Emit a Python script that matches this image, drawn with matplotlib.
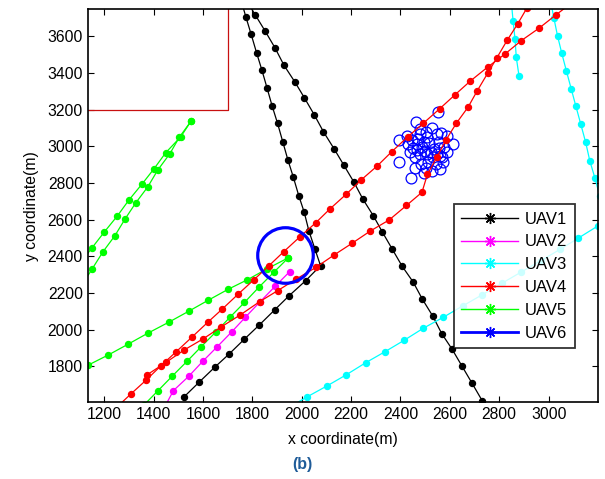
import matplotlib
matplotlib.use("Agg")
import matplotlib.pyplot as plt
from matplotlib.lines import Line2D

plt.rcParams['font.family'] = ['Liberation Sans', 'DejaVu Sans']

# UAV1 (black) - two tracks
uav1_a_x = [1524, 1585, 1647, 1706, 1767, 1828, 1890, 1949, 2016, 2076, 2053, 2029, 2010, 1988,
            1966, 1944, 1923, 1902, 1880, 1859, 1838, 1817, 1795, 1774, 1753]
uav1_a_y = [1634, 1714, 1794, 1867, 1947, 2025, 2107, 2185, 2267, 2349, 2441, 2538, 2640, 2730,
            2831, 2925, 3025, 3125, 3220, 3320, 3418, 3510, 3611, 3704, 3802]
uav1_b_x = [1770, 1812, 1851, 1892, 1928, 1973, 2010, 2051, 2088, 2132, 2170, 2211, 2248, 2290,
            2327, 2367, 2407, 2451, 2489, 2531, 2567, 2609, 2649, 2690, 2731, 2771]
uav1_b_y = [3809, 3716, 3630, 3536, 3442, 3349, 3266, 3171, 3079, 2984, 2898, 2805, 2711, 2621,
            2531, 2438, 2345, 2260, 2165, 2073, 1978, 1893, 1801, 1707, 1612, 1518]

# UAV2 (magenta)
uav2_x = [1421, 1480, 1542, 1599, 1658, 1716, 1772, 1830, 1892, 1951]
uav2_y = [1518, 1667, 1745, 1827, 1907, 1987, 2068, 2150, 2236, 2316]

# UAV3 (cyan) - three tracks
uav3_a_x = [1944, 2023, 2104, 2181, 2260, 2338, 2414, 2492, 2573, 2652, 2731, 2810, 2889, 2968,
            3047, 3119, 3199, 3280]
uav3_a_y = [1572, 1634, 1694, 1754, 1820, 1880, 1941, 2007, 2067, 2129, 2190, 2252, 2314, 2376,
            2438, 2498, 2565, 2630]
uav3_b_x = [3007, 3021, 3036, 3053, 3072, 3092, 3110, 3130, 3150, 3167, 3188, 3207]
uav3_b_y = [3798, 3702, 3603, 3509, 3411, 3311, 3221, 3122, 3022, 2920, 2825, 2729]
uav3_c_x = [2849, 2856, 2864, 2869, 2880]
uav3_c_y = [3787, 3685, 3584, 3485, 3385]

# UAV4 (red) - two tracks
uav4_a_x = [1247, 1308, 1370, 1429, 1492, 1556, 1621, 1678, 1743, 1807, 1866, 1927, 1991, 2057,
            2114, 2179, 2242, 2306, 2365, 2429, 2492, 2559, 2620, 2683, 2754, 2823, 2890, 2961,
            3029, 3098]
uav4_a_y = [1572, 1649, 1725, 1802, 1880, 1960, 2042, 2112, 2194, 2273, 2347, 2425, 2504, 2583,
            2658, 2737, 2818, 2893, 2971, 3051, 3125, 3205, 3280, 3356, 3433, 3503, 3577, 3644,
            3716, 3787]
uav4_b_x = [1372, 1451, 1524, 1600, 1673, 1751, 1829, 1902, 1978, 2057, 2131, 2204, 2278, 2354,
            2424, 2487, 2509, 2547, 2583, 2626, 2674, 2711, 2753, 2791, 2832, 2874, 2912, 2952]
uav4_b_y = [1752, 1822, 1889, 1949, 2014, 2080, 2152, 2212, 2276, 2339, 2407, 2471, 2538, 2598,
            2677, 2749, 2847, 2939, 3032, 3125, 3214, 3303, 3398, 3484, 3578, 3666, 3754, 3842]

# UAV5 (green) - four tracks
uav5_a_x = [1552, 1510, 1449, 1402, 1353, 1300, 1253, 1200, 1151, 1102]
uav5_a_y = [3138, 3052, 2965, 2878, 2794, 2707, 2620, 2532, 2447, 2361]
uav5_b_x = [1552, 1504, 1466, 1417, 1376, 1328, 1285, 1243, 1195, 1151, 1107]
uav5_b_y = [3138, 3049, 2960, 2871, 2778, 2692, 2605, 2512, 2425, 2331, 2238]
uav5_c_x = [1056, 1136, 1217, 1296, 1376, 1461, 1542, 1621, 1702, 1780, 1860, 1946]
uav5_c_y = [1747, 1807, 1862, 1920, 1980, 2040, 2100, 2160, 2220, 2272, 2332, 2392]
uav5_d_x = [1359, 1418, 1476, 1536, 1593, 1652, 1709, 1768, 1827, 1887, 1946]
uav5_d_y = [1586, 1667, 1747, 1828, 1907, 1987, 2067, 2148, 2232, 2313, 2392]

# UAV6 (blue) - marked position and scattered estimates
uav6_x = 1932
uav6_y = 2407
cloud_x = [2550, 2462, 2395, 2394, 2458, 2442, 2495, 2562, 2573, 2611, 2587, 2546, 2503, 2427,
           2431, 2452, 2472, 2489, 2516, 2535, 2557, 2576, 2560, 2533, 2508, 2479, 2460, 2512,
           2543, 2526, 2485, 2479, 2526, 2566, 2445, 2465, 2495, 2546, 2522, 2499, 2468, 2438,
           2570, 2587, 2503, 2557, 2506, 2479]
cloud_y = [3189, 3131, 3034, 2912, 2883, 2829, 2856, 2874, 2916, 3012, 3056, 3067, 3080, 3056,
           3012, 2989, 3038, 2998, 3020, 2983, 3025, 2994, 2947, 2940, 2958, 2958, 2943, 2916,
           2903, 2867, 2903, 3067, 3098, 3074, 3034, 3012, 3025, 2958, 2971, 2976, 2980, 2971,
           2943, 2971, 2880, 2989, 3052, 3092]

# region corner
zone_x = 1700
zone_y = 3200

labels = ['UAV1', 'UAV2', 'UAV3', 'UAV4', 'UAV5', 'UAV6']
colors = ['#000000', '#ff00ff', '#00ffff', '#ff0000', '#00ff00', '#0000ff']

fig = plt.figure(figsize=(6.05, 4.79), dpi=100)
ax = fig.add_axes([0.145, 0.160, 0.843, 0.8205])

tracks = [
    (uav1_a_x, uav1_a_y, colors[0]), (uav1_b_x, uav1_b_y, colors[0]),
    (uav2_x, uav2_y, colors[1]),
    (uav3_a_x, uav3_a_y, colors[2]), (uav3_b_x, uav3_b_y, colors[2]), (uav3_c_x, uav3_c_y, colors[2]),
    (uav5_a_x, uav5_a_y, colors[4]), (uav5_b_x, uav5_b_y, colors[4]),
    (uav5_c_x, uav5_c_y, colors[4]), (uav5_d_x, uav5_d_y, colors[4]),
]
for tx, ty, c in tracks:
    ax.plot(tx, ty, '-o', color=c, lw=0.9, ms=4.3, mec=c, mfc=c)

ax.plot(cloud_x, cloud_y, 'o', ls='none', mfc='none', mec=colors[5], ms=7.8, mew=0.9)

for tx, ty in [(uav4_a_x, uav4_a_y), (uav4_b_x, uav4_b_y)]:
    ax.plot(tx, ty, '-o', color=colors[3], lw=0.9, ms=4.3)

ax.plot([0, zone_x, zone_x], [zone_y, zone_y, 5000], color='#c81010', lw=0.9)

ax.plot(uav6_x, uav6_y, 'o', mfc='none', mec=colors[5], ms=40, mew=2.3)

ax.set_xlim(1133, 3199)
ax.set_ylim(1603, 3747)
ax.set_xticks(range(1200, 3001, 200))
ax.set_yticks(range(1800, 3601, 200))
ax.tick_params(direction='in', top=True, right=True, length=4, width=0.8, labelsize=11.3)
for s in ax.spines.values():
    s.set_linewidth(1.2)

ax.set_xlabel('x coordinate(m)', fontsize=11.3, labelpad=7)
ax.set_ylabel('y coordinate(m)', fontsize=11.3, labelpad=6)

handles = []
for lab, c in zip(labels, colors):
    handles.append(Line2D([], [], color=c, lw=2 if lab == 'UAV6' else 1,
                          marker=(8, 2, 0), ms=8, mec=c, mew=1))
leg = ax.legend(handles, labels, loc='upper left', bbox_to_anchor=(0.718, 0.5046),
                fontsize=12, frameon=True, fancybox=False, edgecolor='black',
                handlelength=3.4, handletextpad=0.4, labelspacing=0.47,
                borderpad=0.45, borderaxespad=0)
leg.get_frame().set_linewidth(1.3)

fig.text(0.5, 0.02, '(b)', color='#1f5c99', fontsize=11.5, fontweight='bold', ha='center')

fig.savefig('out.png', dpi=100)
